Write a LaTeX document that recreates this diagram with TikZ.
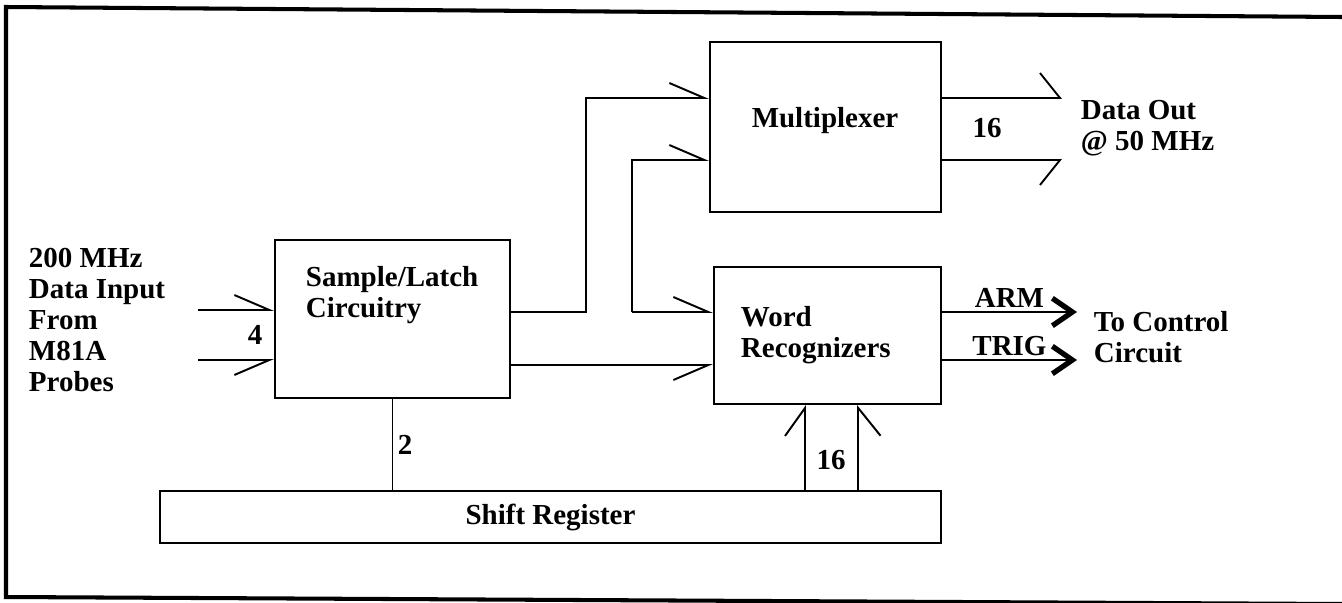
\documentclass[tikz,border=0pt]{standalone}
\usepackage{fontspec}
\setmainfont{Liberation Serif}
\usetikzlibrary{arrows.meta}

\begin{document}
\begin{tikzpicture}[
    x=0.02cm, y=-0.02cm,
    line width=1.1pt,
    every node/.style={font=\fontsize{16.5}{17.6}\selectfont\bfseries, inner sep=0pt},
    block/.style={rectangle, draw, line width=1.1pt},
    txt/.style={align=left, anchor=west},
    barbA/.style={-{Straight Barb[harpoon, length=0.7cm, width=0.6cm]}},
    barbB/.style={-{Straight Barb[harpoon, swap, length=0.7cm, width=0.6cm]}},
    outA/.style={-{Straight Barb[harpoon, length=0.4cm, width=1cm]}},
    outB/.style={-{Straight Barb[harpoon, swap, length=0.4cm, width=1cm]}},
    chev/.style={-{Straight Barb[length=0.4cm, width=0.55cm, line width=3pt]}}
]
\useasboundingbox (0,0) rectangle (1342,602);
\clip (0,0) rectangle (1342,602);

% Frame
\draw[line width=2.3pt] (1342,17) -- (6,7) -- (6,597) -- (1342,604);

% Nodes
\node[block, minimum width=4.62cm, minimum height=3.4cm] (mux) at (825.5,127) {};
\node[block, minimum width=4.7cm, minimum height=3.16cm] (sl) at (392.5,319) {};
\node[block, minimum width=4.54cm, minimum height=2.74cm] (wr) at (827.5,335.5) {};
\node[block, minimum width=15.62cm, minimum height=1.04cm] (sr) at (550.5,517) {Shift Register};

\node (muxText) at (825,121) {Multiplexer};
\node[txt] (slText) at (305,295) {Sample/Latch\\Circuitry};
\node[txt] (wrText) at (740,335) {Word\\Recognizers};
\node[txt] (inText) at (28,320) {200 MHz\\Data Input\\From\\M81A\\Probes};
\node[txt] (outText) at (1080,128) {Data Out\\@ 50 MHz};
\node[txt] (ctlText) at (1093,337) {To Control\\Circuit};

\node (n4) at (255,335) {4};
\node (n16a) at (987,128) {16};
\node (n2) at (405,445) {2};
\node (n16b) at (831,460) {16};

\coordinate (in1) at (198,310);
\coordinate (in2) at (198,360);
\coordinate (mo1) at (1062,98);
\coordinate (mo2) at (1062,160);
\coordinate (tap) at (632,312);
\coordinate (arm) at (1077,312);
\coordinate (trig) at (1077,360);

% Arrows
\draw[barbA] (in1) -- (in1 -| sl.west);
\draw[barbB] (in2) -- (in2 -| sl.west);
\draw[barbA] (sl.east |- tap) -- ++(75,0) |- (mux.west |- mo1);
\draw[barbA] (tap) |- (mux.west |- mo2);
\draw[barbA] (tap) -- (tap -| wr.west);
\draw[barbB] (sl.east |- 0,365) -- (wr.west |- 0,365);
\draw[outA] (mux.east |- mo1) -- (mo1);
\draw[outB] (mux.east |- mo2) -- (mo2);
\draw[chev] (wr.east |- arm) -- (arm) node[midway, above=2pt] {ARM};
\draw[chev] (wr.east |- trig) -- (trig) node[midway, above=2pt] {TRIG};
\draw (sl.south) -- (sl.south |- sr.north);
\draw[-{Straight Barb[harpoon, length=0.56cm, width=0.8cm]}] (sr.north -| 805,0) -- (wr.south -| 805,0);
\draw[-{Straight Barb[harpoon, swap, length=0.56cm, width=0.9cm]}] (sr.north -| 858,0) -- (wr.south -| 858,0);

\end{tikzpicture}
\end{document}
